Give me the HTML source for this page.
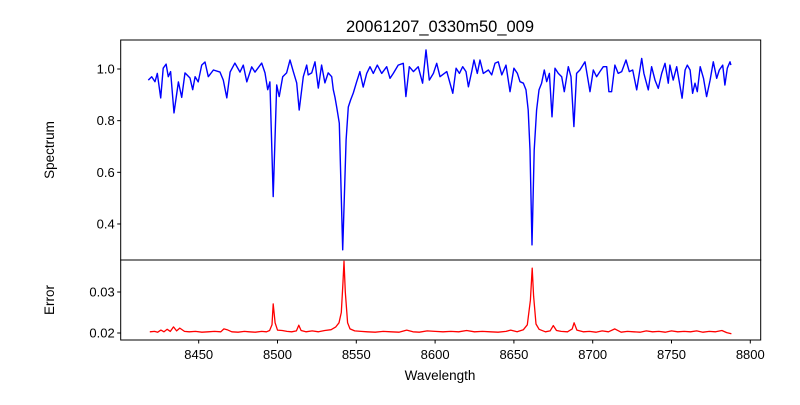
<!DOCTYPE html>
<html><head><meta charset="utf-8"><style>
body{margin:0;background:#fff;}
svg text{font-family:"Liberation Sans","DejaVu Sans",sans-serif;fill:#000;}
</style></head><body>
<svg id="chart" width="800" height="400" xmlns="http://www.w3.org/2000/svg">
<rect width="800" height="400" fill="#fff"/>
<text x="440" y="32" font-size="16.5" text-anchor="middle">20061207_0330m50_009</text>
<g id="topPanel"></g>
<g id="botPanel"></g>
<text transform="translate(54,150) rotate(-90)" font-size="13.5" text-anchor="middle">Spectrum</text>
<text transform="translate(54,300) rotate(-90)" font-size="13.5" text-anchor="middle">Error</text>
<text x="440" y="380" font-size="13.5" text-anchor="middle">Wavelength</text>
</svg>
<script>
const specWave=[8418,8420.2,8422.3,8423.7,8425.9,8427.5,8429.3,8430.7,8432.2,8434.3,8437.1,8439.2,8441.3,8444.5,8446.2,8447.7,8449.7,8451.9,8454,8456.1,8459.3,8463.5,8465.6,8467.8,8469.9,8473,8476.2,8478.3,8480.5,8483.6,8485.7,8490,8492.1,8493.8,8495.2,8497.3,8499.5,8501.1,8503.3,8505.8,8507.9,8510,8512.2,8513.8,8516.4,8518.5,8519.5,8521.7,8523.8,8525.9,8528,8530.1,8532.2,8534.4,8535.4,8536.5,8537.6,8539.2,8541.4,8543.5,8544.9,8546.4,8548.1,8550.2,8552.3,8554.4,8556.6,8558.7,8560.8,8563.3,8566.1,8569.3,8571.4,8573.5,8576.6,8579.8,8581.5,8583.6,8586.2,8589.3,8592.1,8594.2,8596.3,8598.9,8601,8603.1,8607.4,8611.2,8613.3,8615.4,8617.5,8619.6,8621.1,8623.2,8624.7,8626.8,8628.5,8630.6,8633.8,8635.9,8638,8640.1,8642.3,8645,8647.5,8650,8652.2,8653.9,8656,8657.7,8659.1,8660.2,8661.5,8662.9,8664.4,8665.9,8667.6,8669.3,8670.8,8672.5,8674.2,8676.1,8678.2,8680.3,8682,8684.5,8686.2,8688.1,8689.8,8691.9,8695.1,8698.3,8700.4,8702.5,8704.6,8706.7,8708.9,8710.3,8712,8714.1,8716.2,8718.4,8721.1,8723.2,8725.4,8727.9,8731.1,8732.5,8735.3,8737.4,8739.5,8741.6,8743.8,8745.9,8748,8749,8751.1,8753.3,8756.7,8758.6,8760,8761.8,8763.4,8764.9,8766.4,8768.2,8770.3,8772.3,8774.5,8776.5,8778.7,8780.3,8782.5,8783.9,8785.4,8787.1,8787.7];
const specFlux=[0.957,0.97,0.951,0.983,0.888,1.003,1.019,0.97,0.99,0.83,0.95,0.89,0.985,0.965,0.92,0.97,0.95,1.015,1.027,0.97,0.996,0.988,0.957,0.888,0.988,1.023,0.988,1.015,0.95,1.008,0.988,1.023,0.985,0.92,0.95,0.506,0.938,0.893,0.97,0.985,1.035,0.99,0.946,0.841,0.97,1.015,0.977,0.985,1.028,0.926,1.015,0.946,0.985,0.97,0.92,0.89,0.85,0.79,0.30,0.725,0.853,0.88,0.907,0.95,0.99,0.93,0.983,1.009,0.983,1.015,0.983,1.009,0.964,0.983,1.015,1.022,0.893,1.009,0.99,1.009,0.945,1.074,0.957,0.983,1.022,0.97,0.99,0.906,1.003,0.983,1.009,0.99,0.931,0.99,1.035,0.983,1.035,0.983,0.996,0.977,1.022,1.028,0.977,1.015,0.912,1.003,0.983,0.951,0.945,0.919,0.841,0.686,0.319,0.686,0.841,0.919,0.945,0.996,0.951,0.983,0.815,1.003,0.983,0.97,0.912,1.009,0.97,0.777,0.983,0.996,1.028,0.912,0.996,0.97,0.99,1.009,1.009,0.912,0.912,1.015,0.983,0.99,1.035,0.99,0.996,0.919,1.041,0.983,0.919,1.009,0.957,0.925,0.983,1.022,0.945,1.015,0.957,1.009,0.887,0.996,1.015,0.996,0.906,0.945,0.912,1.009,0.964,0.893,0.957,1.028,0.964,0.996,1.015,0.938,1.003,1.028,1.015];
const errWave=[8419,8422,8424,8426,8428,8430,8432,8434,8436,8438,8441,8444,8448,8452,8456,8460,8464,8466,8468,8471,8475,8479,8482,8486,8490,8493,8495,8496.5,8497.3,8498.5,8500,8503,8506,8509,8512,8513.5,8515,8518,8522,8526,8530,8534,8537,8539,8540.5,8541.5,8542.2,8543,8544.5,8546,8549,8553,8557,8562,8567,8572,8577,8582,8586,8590,8595,8600,8605,8610,8615,8620,8625,8630,8635,8640,8645,8648,8652,8656,8658.5,8660.5,8661.6,8662.5,8664,8666,8670,8673,8675,8677,8680,8684,8687,8688.2,8690,8694,8698,8702,8706,8710,8714,8718,8722,8726,8730,8734,8738,8742,8746,8750,8754,8758,8762,8766,8770,8774,8778,8782,8785,8788];
const errVal=[0.0203,0.0204,0.0202,0.0207,0.0203,0.0209,0.0204,0.0215,0.0205,0.0212,0.0204,0.0203,0.0204,0.0202,0.0203,0.0204,0.0203,0.0210,0.0208,0.0203,0.0202,0.0204,0.0203,0.0202,0.0204,0.0203,0.0206,0.0220,0.0271,0.0225,0.0207,0.0206,0.0204,0.0203,0.0205,0.0219,0.0206,0.0203,0.0205,0.0203,0.0206,0.0208,0.0215,0.0225,0.0250,0.0320,0.0375,0.0300,0.0225,0.0210,0.0205,0.0204,0.0203,0.0202,0.0204,0.0203,0.0202,0.0207,0.0203,0.0202,0.0205,0.0204,0.0203,0.0204,0.0203,0.0206,0.0203,0.0204,0.0203,0.0202,0.0204,0.0207,0.0203,0.0208,0.0220,0.0280,0.0358,0.0290,0.0222,0.0209,0.0203,0.0205,0.0218,0.0206,0.0204,0.0203,0.0210,0.0225,0.0207,0.0203,0.0204,0.0202,0.0205,0.0203,0.0210,0.0202,0.0204,0.0203,0.0202,0.0205,0.0203,0.0204,0.0202,0.0205,0.0203,0.0204,0.0203,0.0205,0.0202,0.0204,0.0203,0.0206,0.0201,0.0198];
const xTicks=[8450,8500,8550,8600,8650,8700,8750,8800];
const topTicks=[0.4,0.6,0.8,1.0];
const botTicks=[0.02,0.03];

const NS='http://www.w3.org/2000/svg';
const L=120.7,R=760.7,TT=40,TB=260,BT=260,BB=340;
const xs=w=>198.7+(w-8450)*1.576;
const yTop=v=>69+(1-v)*258.3;
const yBot=v=>333-(v-0.02)*4100;
function mk(tag,parent,attrs){const e=document.createElementNS(NS,tag);for(const k in attrs)e.setAttribute(k,attrs[k]);parent.appendChild(e);return e;}
const gTop=document.getElementById('topPanel'),gBot=document.getElementById('botPanel');

let d=specWave.map((w,i)=>(i?'L':'M')+xs(w).toFixed(1)+','+yTop(specFlux[i]).toFixed(1)).join('');
const sp=mk('path',gTop,{d:d,fill:'none',stroke:'#0000ff','stroke-width':1.4,'stroke-linejoin':'round'});


d=errWave.map((w,i)=>(i?'L':'M')+xs(w).toFixed(1)+','+yBot(errVal[i]).toFixed(1)).join('');
const ep=mk('path',gBot,{d:d,fill:'none',stroke:'#ff0000','stroke-width':1.3,'stroke-linejoin':'round'});



const f1=mk('rect',gTop,{x:L,y:TT,width:R-L,height:TB-TT,fill:'none',stroke:'#000','stroke-width':1});


const f2=mk('rect',gBot,{x:L,y:BT,width:R-L,height:BB-BT,fill:'none',stroke:'#000','stroke-width':1});



topTicks.forEach(v=>{const y=yTop(v);
 mk('line',gTop,{x1:L-3.5,x2:L,y1:y,y2:y,stroke:'#000'});
 const t=mk('text',gTop,{x:L-6,y:y+4.5,'font-size':13,'text-anchor':'end'});t.textContent=v.toFixed(1);
 
 });
botTicks.forEach(v=>{const y=yBot(v);
 mk('line',gBot,{x1:L-3.5,x2:L,y1:y,y2:y,stroke:'#000'});
 const t=mk('text',gBot,{x:L-6,y:y+4.5,'font-size':13,'text-anchor':'end'});t.textContent=v.toFixed(2);
 
 });
xTicks.forEach(w=>{const x=xs(w);
 mk('line',gBot,{x1:x,x2:x,y1:BB,y2:BB+3.5,stroke:'#000'});
 const t=mk('text',gBot,{x:x,y:BB+19,'font-size':13,'text-anchor':'middle'});t.textContent=w;
 
 });
</script>
</body></html>
